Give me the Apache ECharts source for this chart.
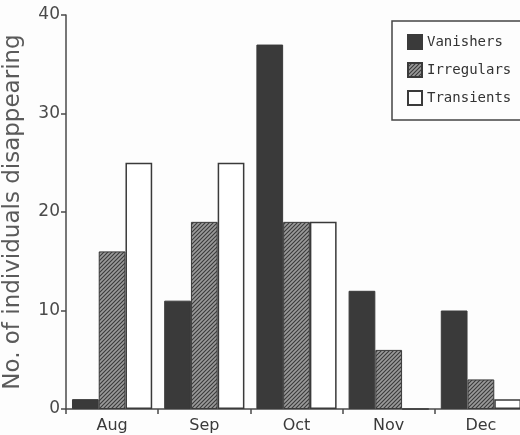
<!DOCTYPE html>
<html>
<head>
<meta charset="utf-8">
<script src="https://cdn.jsdelivr.net/npm/echarts@6/dist/echarts.min.js"></script>
<style>
  html, body { margin: 0; padding: 0; background: #fdfdfd; }
  #chart { width: 520px; height: 435px; }
</style>
</head>
<body>
<div id="chart"></div>
<script>
// Monthly counts of individuals disappearing, by residency class
const months = ['Aug', 'Sep', 'Oct', 'Nov', 'Dec'];
const vanishers = [1, 11, 37, 12, 10];
const irregulars = [16, 19, 19, 6, 3];
const transients = [25, 25, 19, 0, 1];
const yTicks = [0, 10, 20, 30, 40];

// Diagonal hatch tile for the "Irregulars" bars
function hatchTile() {
  const c = document.createElement('canvas');
  c.width = 4; c.height = 4;
  const g = c.getContext('2d');
  g.fillStyle = '#9a9a9a';
  g.fillRect(0, 0, 4, 4);
  g.strokeStyle = '#3a3a3a';
  g.lineWidth = 1.1;
  g.beginPath();
  g.moveTo(0, 4); g.lineTo(4, 0);
  g.moveTo(-1, 1); g.lineTo(1, -1);
  g.moveTo(3, 5); g.lineTo(5, 3);
  g.stroke();
  return c;
}

const ink = '#3a3a3a';
const axisInk = '#4a4a4a';
const labelFont = 'DejaVu Sans';

const chart = echarts.init(document.getElementById('chart'));
chart.setOption({
  backgroundColor: '#fdfdfd',
  animation: false,
  grid: { left: 66, right: -7, top: 15, bottom: 26, containLabel: false, outerBoundsMode: 'none' },
  legend: {
    orient: 'vertical',
    left: 392,
    top: 21,
    itemWidth: 14,
    itemHeight: 14,
    itemGap: 12,
    padding: [13, 12, 14, 15],
    borderColor: '#444',
    borderWidth: 1.5,
    icon: 'rect',
    textStyle: { fontFamily: 'DejaVu Sans Mono', fontSize: 14, color: '#333' },
    data: ['Vanishers', 'Irregulars', 'Transients']
  },
  xAxis: {
    type: 'category',
    data: months,
    axisLine: { lineStyle: { color: axisInk, width: 1.5 } },
    axisTick: { show: true, length: 5, lineStyle: { color: axisInk, width: 1.5 } },
    axisLabel: { fontFamily: labelFont, fontSize: 16, color: '#3a3a3a', margin: 9 }
  },
  yAxis: {
    type: 'value',
    min: yTicks[0],
    max: yTicks[yTicks.length - 1],
    interval: 10,
    name: 'No. of individuals disappearing',
    nameLocation: 'middle',
    nameGap: 41,
    nameTextStyle: { fontFamily: labelFont, fontSize: 23, color: '#5a5a5a' },
    splitLine: { show: false },
    axisLine: { show: true, lineStyle: { color: axisInk, width: 1.5 } },
    axisTick: { show: true, length: 5, lineStyle: { color: axisInk, width: 1.5 } },
    axisLabel: { fontFamily: labelFont, fontSize: 17, color: '#4a4a4a', margin: 6 }
  },
  series: [
    {
      name: 'Vanishers', type: 'bar', data: vanishers,
      barGap: '0%', barCategoryGap: '13%',
      itemStyle: { color: ink, borderColor: ink, borderWidth: 1 }
    },
    {
      name: 'Irregulars', type: 'bar', data: irregulars,
      barGap: '0%', barCategoryGap: '13%',
      itemStyle: { color: { image: hatchTile(), repeat: 'repeat' }, borderColor: '#3a3a3a', borderWidth: 1 }
    },
    {
      name: 'Transients', type: 'bar', data: transients,
      barGap: '0%', barCategoryGap: '13%',
      itemStyle: { color: '#ffffff', borderColor: '#3a3a3a', borderWidth: 1.5 }
    }
  ]
});
</script>
</body>
</html>
